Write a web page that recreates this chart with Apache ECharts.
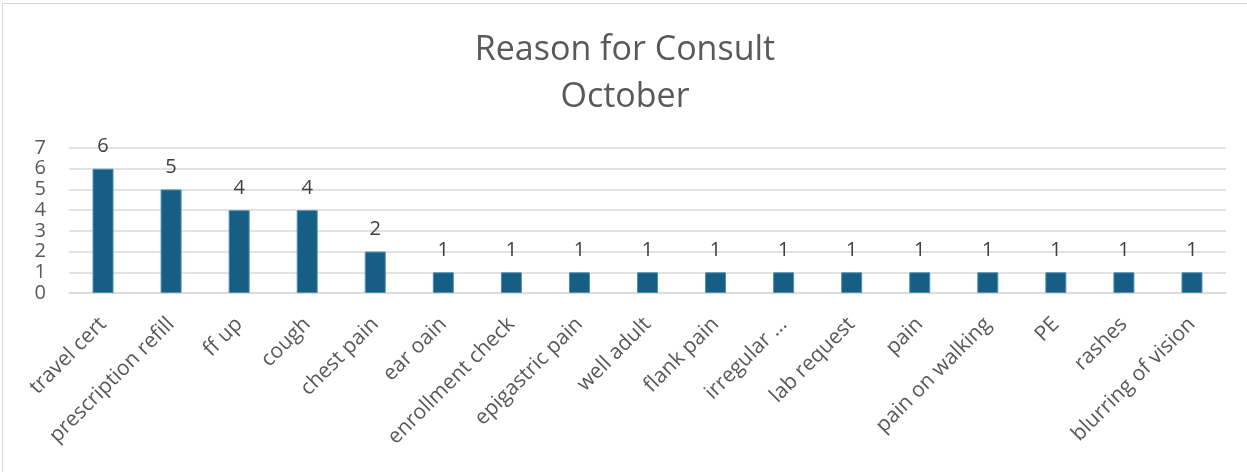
<!DOCTYPE html>
<html><head><meta charset="utf-8">
<script src="https://cdn.jsdelivr.net/npm/echarts@6/dist/echarts.min.js"></script>
<style>html,body{margin:0;padding:0;background:#fff}
#c{position:absolute;left:2px;top:3px;width:1245px;height:469px;border-left:1.5px solid #d9d9d9;border-top:1.5px solid #d9d9d9;box-sizing:border-box}</style>
</head><body><div id="c"></div>
<script>
const categories = ["travel cert","prescription refill","ff up","cough","chest pain","ear oain","enrollment check","epigastric pain","well adult","flank pain","irregular ...","lab request","pain","pain on walking","PE","rashes","blurring of vision"];
const counts = [6,5,4,4,2,1,1,1,1,1,1,1,1,1,1,1,1];
const yTicks = [0,1,2,3,4,5,6,7];
const chart = echarts.init(document.getElementById('c'));
chart.setOption({
  animation:false,
  title:{text:"Reason for Consult\nOctober",left:'center',top:18,textStyle:{fontFamily:'Open Sans, Noto Sans, sans-serif',fontSize:34,fontWeight:'normal',color:'#595959',lineHeight:47}},
  grid:{left:66,right:21,top:144,bottom:179,containLabel:false},
  xAxis:{type:'category',data:categories,axisLine:{lineStyle:{color:'#d9d9d9',width:1.5}},axisTick:{show:false},
    axisLabel:{rotate:45,interval:0,fontSize:21,color:'#595959',fontFamily:'Open Sans, Noto Sans, sans-serif',margin:28}},
  yAxis:{type:'value',min:0,max:7,interval:1,axisLine:{show:false},axisTick:{show:false},
    splitLine:{lineStyle:{color:'#d9d9d9',width:1.5}},
    axisLabel:{fontSize:20,color:'#595959',fontFamily:'Open Sans, Noto Sans, sans-serif',margin:23,formatter:v=>yTicks.includes(v)?String(v):''}},
  series:[{type:'bar',data:counts,barWidth:21,itemStyle:{color:'#165E83',borderColor:'#4f8fb3',borderWidth:1},
    label:{show:true,position:'top',distance:12,fontSize:20,color:'#404040',fontFamily:'Open Sans, Noto Sans, sans-serif'}}]
});
</script></body></html>
